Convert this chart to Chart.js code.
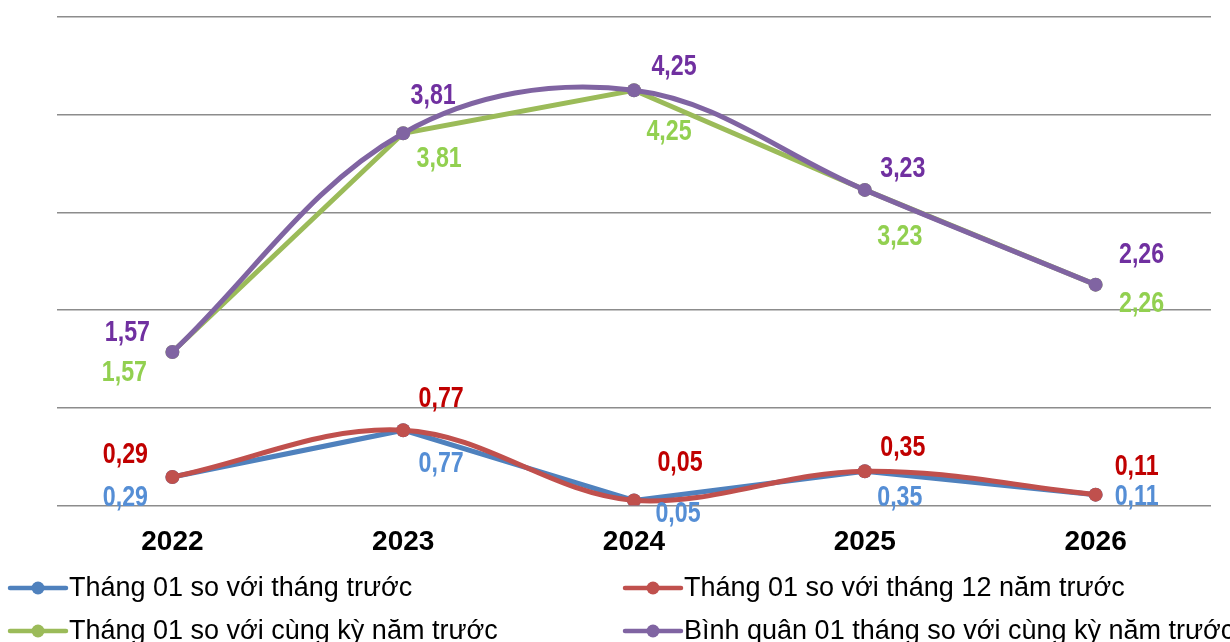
<!DOCTYPE html>
<html>
<head>
<meta charset="utf-8">
<script src="https://cdn.jsdelivr.net/npm/chart.js@4/dist/chart.umd.min.js"></script>
<style>
  html, body { margin: 0; padding: 0; background: #fff; }
  #wrap { width: 1230px; height: 642px; }
</style>
</head>
<body>
<div id="wrap"><canvas id="chart" width="1230" height="642"></canvas></div>
<script>
// data
const years = ['2022', '2023', '2024', '2025', '2026']
const momPrev = [0.29, 0.77, 0.05, 0.35, 0.11]      // Tháng 01 so với tháng trước
const momDec = [0.29, 0.77, 0.05, 0.35, 0.11]       // Tháng 01 so với tháng 12 năm trước
const yoyJan = [1.57, 3.81, 4.25, 3.23, 2.26]       // Tháng 01 so với cùng kỳ năm trước
const yoyAvg = [1.57, 3.81, 4.25, 3.23, 2.26]       // Bình quân 01 tháng so với cùng kỳ năm trước
const seriesNames = [
  'Tháng 01 so với tháng trước',
  'Tháng 01 so với tháng 12 năm trước',
  'Tháng 01 so với cùng kỳ năm trước',
  'Bình quân 01 tháng so với cùng kỳ năm trước'
]

// styles
const LINE = ['#4F81BD', '#C0504D', '#9BBB59', '#8064A2']
const LABEL = ['#558ED5', '#C00000', '#92D050', '#7030A0']
const labelFont = 'bold 29px "Liberation Sans", Arial, sans-serif'
const legendFont = '27px "Liberation Sans", Arial, sans-serif'
const narrow = 0.8 // squeeze labels to look like Arial Narrow

// label offsets (px from point) per series
const labelOffsets = [
  [[-47, 20], [38, 33], [44, 12], [35, 26], [41, 1]],
  [[-47, -23], [38, -32], [46, -39], [38, -24], [41, -29]],
  [[-48, 20], [36, 25], [35, 41], [35, 46], [46, 18]],
  [[-45, -20], [30, -38], [40, -24], [38, -22], [46, -31]]
]

const fmt = (v) => v.toFixed(2).replace('.', ',')

const valueLabels = {
  id: 'valueLabels',
  afterDatasetsDraw(chart) {
    const ctx = chart.ctx
    chart.data.datasets.forEach((ds, di) => {
      const meta = chart.getDatasetMeta(di)
      meta.data.forEach((pt, i) => {
        const off = labelOffsets[di][i]
        ctx.save()
        ctx.font = labelFont
        ctx.textAlign = 'center'
        ctx.textBaseline = 'middle'
        ctx.fillStyle = LABEL[di]
        ctx.translate(pt.x + off[0], pt.y + off[1] + 1)
        ctx.scale(narrow, 1)
        ctx.fillText(fmt(ds.data[i]), 0, 0)
        ctx.restore()
      })
    })
  }
}

const sideLegend = {
  id: 'sideLegend',
  afterDraw(chart) {
    const ctx = chart.ctx
    const cols = [10, 625]
    const rows = [588, 631]
    ctx.save()
    ctx.font = legendFont
    ctx.textBaseline = 'middle'
    seriesNames.forEach((name, i) => {
      const x = cols[i % 2]
      const y = rows[Math.floor(i / 2)]
      ctx.strokeStyle = LINE[i]
      ctx.lineWidth = 4.5
      ctx.lineCap = 'round'
      ctx.beginPath()
      ctx.moveTo(x, y)
      ctx.lineTo(x + 56, y)
      ctx.stroke()
      ctx.fillStyle = LINE[i]
      ctx.beginPath()
      ctx.arc(x + 28, y, 6.5, 0, Math.PI * 2)
      ctx.fill()
      ctx.fillStyle = '#000'
      ctx.fillText(name, x + 59, y + 1)
    })
    ctx.restore()
  }
}

function makeSet(i, data, tension, order) {
  return {
    label: seriesNames[i],
    data,
    borderColor: LINE[i],
    backgroundColor: LINE[i],
    borderWidth: 5,
    pointRadius: 7,
    pointBorderWidth: 0,
    pointHoverRadius: 7,
    tension,
    order
  }
}

const ctx = document.getElementById('chart')
new Chart(ctx, {
  type: 'line',
  data: {
    labels: years,
    datasets: [
      makeSet(0, momPrev, 0, 4),
      makeSet(1, momDec, 0.36, 2),
      makeSet(2, yoyJan, 0, 3),
      makeSet(3, yoyAvg, 0.36, 1)
    ]
  },
  options: {
    responsive: false,
    animation: false,
    layout: { padding: { left: 57, right: 19, top: 17, bottom: 71 } },
    plugins: {
      legend: { display: false },
      tooltip: { enabled: false }
    },
    scales: {
      x: {
        offset: true,
        grid: { display: false },
        border: { display: false },
        ticks: {
          color: '#000',
          padding: 12,
          font: { family: '"Liberation Sans", Arial, sans-serif', size: 28, weight: 'bold' }
        }
      },
      y: {
        min: 0,
        max: 5,
        ticks: { display: false, stepSize: 1 },
        grid: { color: '#8c8c8c', lineWidth: 1.5, drawTicks: false },
        border: { display: false }
      }
    }
  },
  plugins: [valueLabels, sideLegend]
})
</script>
</body>
</html>
